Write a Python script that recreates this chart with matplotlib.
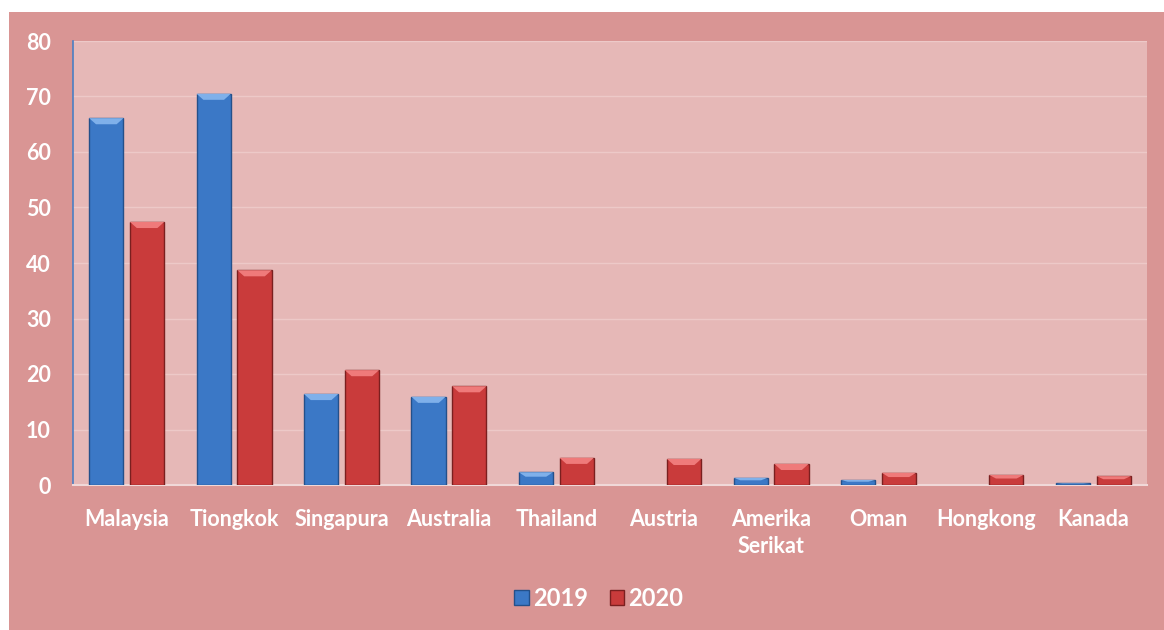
import numpy as np
import matplotlib.pyplot as plt
from matplotlib.patches import Rectangle

# data
countries = ['Malaysia', 'Tiongkok', 'Singapura', 'Australia', 'Thailand',
             'Austria', 'Amerika\nSerikat', 'Oman', 'Hongkong', 'Kanada']
val_2019 = [66.1, 70.5, 16.4, 15.9, 2.3, 0.0, 1.3, 0.9, 0.0, 0.3]
val_2020 = [47.4, 38.7, 20.7, 17.8, 4.9, 4.7, 3.8, 2.2, 1.8, 1.6]
yticks = [0, 10, 20, 30, 40, 50, 60, 70, 80]

plt.rcParams['font.family'] = ['Lato', 'DejaVu Sans']
plt.rcParams['font.weight'] = 'bold'

fig = plt.figure(figsize=(11.64, 6.3), dpi=100)
fig.patch.set_facecolor('white')
# outer pink chart area
fig.patches.append(Rectangle((9 / 1164, 0), 1 - 9 / 1164, 1 - 12 / 630,
                             transform=fig.transFigure, facecolor='#d99594',
                             edgecolor='none', zorder=-1))

ax = fig.add_axes([73 / 1164, 1 - 485 / 630, (1147 - 73) / 1164, (485 - 41) / 630])
ax.set_facecolor('#e6b8b7')

x = np.arange(len(countries))
w = 0.32
off = 0.19
blue = '#3b78c6'
red = '#c93b3b'

b1 = ax.bar(x - off, val_2019, w, color=blue, edgecolor='#24508a', linewidth=1.0,
            label='2019', zorder=3)
b2 = ax.bar(x + off, val_2020, w, color=red, edgecolor='#7a1f1f', linewidth=1.0,
            label='2020', zorder=3)

# simple bevel highlight on bar tops
for bars, hl in ((b1, '#7fb0ea'), (b2, '#ef7a7a')):
    for r in bars:
        h = r.get_height()
        if h <= 0:
            r.set_linewidth(0)
            continue
        bx, bw = r.get_x(), r.get_width()
        cap = min(1.1, h * 0.35)
        ax.fill([bx, bx + bw, bx + bw * 0.8, bx + bw * 0.2],
                [h, h, h - cap, h - cap], color=hl, zorder=4, lw=0)

ax.set_xlim(-0.5, len(countries) - 0.5)
ax.set_ylim(0, 80)
ax.set_yticks(yticks)
ax.set_xticks(x)
ax.set_xticklabels(countries, color='white', fontsize=15.5, fontweight='bold',
                   linespacing=1.35)
ax.tick_params(axis='y', colors='white', labelsize=15.5, length=0, pad=16)
ax.tick_params(axis='x', length=0, pad=17)
for t in ax.get_yticklabels():
    t.set_fontweight('bold')

ax.grid(axis='y', color='#edc9c8', linewidth=1.0, zorder=0)
for s in ['top', 'right']:
    ax.spines[s].set_visible(False)
ax.spines['left'].set_color('#4a7fc4')
ax.spines['left'].set_linewidth(1.2)
ax.spines['bottom'].set_color('#f0d8d8')
ax.spines['bottom'].set_linewidth(1.5)

leg = fig.legend(handles=[b1, b2], labels=['2019', '2020'], loc='center',
                 bbox_to_anchor=(599 / 1164, 1 - 598 / 630), ncol=2, frameon=False,
                 fontsize=17, handlelength=0.6, handleheight=0.6,
                 handletextpad=0.2, columnspacing=0.9)
for t in leg.get_texts():
    t.set_color('white')
    t.set_fontweight('bold')

fig.savefig('out.png', dpi=100, facecolor=fig.get_facecolor())
